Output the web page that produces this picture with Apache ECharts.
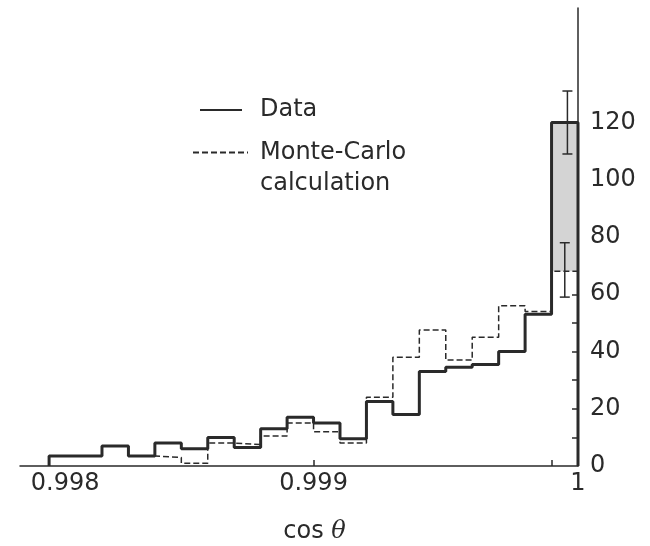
<!DOCTYPE html>
<html>
<head>
<meta charset="utf-8">
<script src="https://cdn.jsdelivr.net/npm/echarts@6/dist/echarts.min.js"></script>
<style>
  html, body { margin: 0; padding: 0; background: #fff; }
  #chart { width: 650px; height: 546px; }
</style>
</head>
<body>
<div id="chart"></div>
<script>
// bin edges in cos(theta)
const binEdges = [0.998, 0.9981, 0.9982, 0.9983, 0.9984, 0.9985, 0.9986, 0.9987, 0.9988, 0.9989,
  0.999, 0.9991, 0.9992, 0.9993, 0.9994, 0.9995, 0.9996, 0.9997, 0.9998, 0.9999, 1]
const dataCounts = [3.5, 3.5, 7, 3.5, 8, 6, 10, 6.5, 13, 17, 15, 9.5, 22.5, 18, 33, 34.5, 35.5, 40, 53, 120]
const mcCounts = [3.5, 3.5, 7, 3.5, 3, 1, 8, 7.5, 10.5, 15, 12, 8, 24, 38, 47.5, 37, 45, 56, 54, 68]
// error bars on the last bin: [x, low, high]
const dataErr = [0.99996, 109, 131]
const mcErr = [0.99995, 59, 78]
const xTickLabels = [0.998, 0.999, 1]
const xTicks = [0.998, 0.999, 0.9999]
const yTickLabels = [0, 20, 40, 60, 80, 100, 120]
const yTicks = [10, 20, 30, 40, 50, 60, 70, 80, 90, 100, 110, 120]

const FONT = "'DejaVu Sans', sans-serif"
const INK = '#2a2a2a'

// histogram outline: start at baseline, step at each bin edge, close at baseline
function stepData(counts) {
  const pts = [[binEdges[0], 0]]
  counts.forEach((v, i) => pts.push([binEdges[i], v]))
  pts.push([binEdges[binEdges.length - 1], counts[counts.length - 1]])
  pts.push([binEdges[binEdges.length - 1], 0])
  return pts
}

function errorBar(params, api) {
  const x = api.value(0)
  const lo = api.coord([x, api.value(1)])
  const hi = api.coord([x, api.value(2)])
  const w = 5
  const style = { stroke: INK, lineWidth: 1.5 }
  return {
    type: 'group',
    children: [
      { type: 'line', shape: { x1: lo[0], y1: lo[1], x2: hi[0], y2: hi[1] }, style },
      { type: 'line', shape: { x1: lo[0] - w, y1: lo[1], x2: lo[0] + w, y2: lo[1] }, style },
      { type: 'line', shape: { x1: hi[0] - w, y1: hi[1], x2: hi[0] + w, y2: hi[1] }, style },
    ],
  }
}

const myChart = echarts.init(document.getElementById('chart'), null, { renderer: 'canvas' })

myChart.setOption({
  backgroundColor: '#fff',
  animation: false,
  color: [INK, INK],
  grid: { left: 20, right: 72, top: 8, bottom: 80, outerBoundsMode: 'none' },
  legend: [
    {
      data: ['Data'],
      left: 194,
      top: 93,
      itemWidth: 42,
      itemHeight: 14,
      itemStyle: { opacity: 0 },
      textStyle: { fontFamily: FONT, fontSize: 24, color: INK, padding: [0, 0, 0, 13] },
    },
    {
      // leading blank line puts "Monte-Carlo" level with the dashed sample
      data: ['Monte-Carlo calculation'],
      formatter: () => '\nMonte-Carlo\ncalculation',
      left: 187,
      top: 101,
      itemWidth: 55,
      itemHeight: 14,
      itemStyle: { opacity: 0 },
      textStyle: { fontFamily: FONT, fontSize: 24, color: INK, lineHeight: 31, padding: [0, 0, 0, 7] },
    },
  ],
  xAxis: {
    type: 'value',
    min: 0.99789,
    max: 1,
    name: 'cos {i|θ}',
    nameLocation: 'middle',
    nameGap: 54,
    nameTextStyle: {
      fontFamily: FONT,
      fontSize: 24,
      color: INK,
      padding: [0, 0, 0, 31],
      rich: { i: { fontFamily: "'DejaVu Serif', serif", fontStyle: 'italic', fontSize: 24, color: INK } },
    },
    axisLine: { onZero: false, lineStyle: { color: INK, width: 1.5 } },
    axisTick: { inside: true, length: 6, customValues: xTicks, lineStyle: { color: INK, width: 1.5 } },
    axisLabel: {
      customValues: xTickLabels,
      margin: 6,
      fontFamily: FONT,
      fontSize: 24,
      color: INK,
      // first label sits a little right of its tick in the original
      formatter: (v) => (v < 0.9985 ? '{first|' + String(+v.toFixed(4)) + '}' : String(+v.toFixed(4))),
      rich: { first: { fontFamily: FONT, fontSize: 24, color: INK, padding: [0, 0, 0, 32] } },
    },
    splitLine: { show: false },
  },
  yAxis: {
    type: 'value',
    position: 'right',
    min: 0,
    max: 160,
    axisLine: { show: true, onZero: false, lineStyle: { color: INK, width: 1.5 } },
    axisTick: { show: true, inside: true, length: 6, customValues: yTicks, lineStyle: { color: INK, width: 1.5 } },
    axisLabel: { customValues: yTickLabels, margin: 12, fontFamily: FONT, fontSize: 24, color: INK },
    splitLine: { show: false },
  },
  series: [
    {
      name: 'Monte-Carlo calculation',
      type: 'line',
      step: 'end',
      symbol: 'none',
      data: stepData(mcCounts),
      lineStyle: { color: INK, width: 1.5, type: [6, 3] },
      z: 2,
    },
    {
      name: 'Data',
      type: 'line',
      step: 'end',
      symbol: 'none',
      data: stepData(dataCounts),
      lineStyle: { color: INK, width: 3 },
      z: 3,
      markArea: {
        silent: true,
        itemStyle: { color: '#d4d4d4' },
        data: [[
          { xAxis: binEdges[19], yAxis: mcCounts[19] },
          { xAxis: binEdges[20], yAxis: dataCounts[19] },
        ]],
      },
    },
    {
      type: 'custom',
      renderItem: errorBar,
      data: [dataErr, mcErr],
      z: 4,
      silent: true,
    },
  ],
})
</script>
</body>
</html>
